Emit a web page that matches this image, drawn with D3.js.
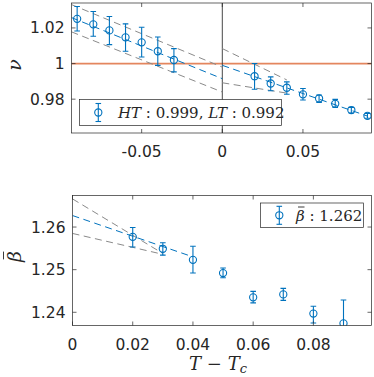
<!DOCTYPE html>
<html>
<head>
<meta charset="utf-8">
<script src="https://cdn.jsdelivr.net/npm/d3@7"></script>
<style>
  body { margin: 0; background: #fff; }
  svg { display: block; }
  .tick-label { font-family: "DejaVu Sans", sans-serif; font-size: 15.5px; fill: #262626; }
  .math { font-family: "DejaVu Serif", serif; fill: #262626; }
</style>
</head>
<body>
<div id="chart"></div>
<script>

// ---- DATA ----

// top panel: nu vs T - Tc
var tNu = [-0.09, -0.08, -0.07, -0.06, -0.05, -0.04, -0.03, 0.02, 0.03, 0.04, 0.05, 0.06, 0.07, 0.08, 0.09]
var nuMean = [1.0251, 1.0220, 1.0186, 1.0147, 1.0119, 1.0069, 1.0020, 0.9929, 0.9888, 0.9864, 0.9827, 0.9804, 0.9774, 0.9739, 0.9706]
var nuLow  = [1.0183, 1.0153, 1.0106, 1.0069, 1.0037, 0.9990, 0.9953, 0.9856, 0.9847, 0.9828, 0.9795, 0.9782, 0.9754, 0.9722, 0.9693]
var nuHigh = [1.0320, 1.0292, 1.0264, 1.0223, 1.0204, 1.0149, 1.0084, 1.0000, 0.9925, 0.9897, 0.9860, 0.9823, 0.9799, 0.9754, 0.9720]

// fit lines, each is [[t0, v0], [t1, v1]]
var nuFitLT      = [[-0.0935, 1.0258], [0, 0.9915]]
var nuFitLTUpper = [[-0.0935, 1.0331], [0, 0.9980]]
var nuFitLTLower = [[-0.0935, 1.0178], [0, 0.9840]]
var nuFitHT      = [[0, 0.9990], [0.09, 0.9705]]
var nuFitHTUpper = [[0, 1.0084], [0.04, 0.9908]]
var nuFitHTLower = [[0, 0.9892], [0.04, 0.9834]]
var nuRef = 1

// bottom panel: beta bar vs T - Tc
var tBeta = [0.02, 0.03, 0.04, 0.05, 0.06, 0.07, 0.08, 0.09]
var betaMean = [1.2577, 1.2549, 1.2523, 1.2492, 1.2435, 1.2442, 1.2397, 1.2374]
var betaLow  = [1.2553, 1.2534, 1.2492, 1.2481, 1.2422, 1.2428, 1.2375, 1.2320]
var betaHigh = [1.2599, 1.2563, 1.2555, 1.2504, 1.2449, 1.2456, 1.2414, 1.2429]

var betaFit      = [[0, 1.2627], [0.04, 1.2530]]
var betaFitUpper = [[0, 1.2666], [0.03, 1.2538]]
var betaFitLower = [[0, 1.2585], [0.03, 1.2536]]

// ticks
var nuXTicks = [-0.05, 0, 0.05]
var nuYTicks = [0.98, 1, 1.02]
var betaXTicks = [0, 0.02, 0.04, 0.06, 0.08]
var betaYTicks = [1.24, 1.25, 1.26]


// ---- DRAWING ----

var W = 374, H = 377
var blue = "#0072BD", grey = "#8a8a8a", axisCol = "#262626"

var svg = d3.select("#chart").append("svg")
	.attr("width", W)
	.attr("height", H)

// one axes box, MATLAB style: ticks inside on all four sides
function makePanel(id, box, xDom, yDom, xTicks, yTicks, xFmt, yFmt) {
	var x = d3.scaleLinear().domain(xDom).range([box.left, box.right])
	var y = d3.scaleLinear().domain(yDom).range([box.bottom, box.top])

	svg.append("clipPath").attr("id", id)
		.append("rect")
		.attr("x", box.left).attr("y", box.top)
		.attr("width", box.right - box.left).attr("height", box.bottom - box.top)

	var g = svg.append("g")
	var plot = g.append("g").attr("clip-path", "url(#" + id + ")")

	// axis lines + ticks, called after the data so they sit on top
	function drawFrame() {
		var tl = 4
		var fr = g.append("g")
		fr.append("rect")
			.attr("x", box.left).attr("y", box.top)
			.attr("width", box.right - box.left).attr("height", box.bottom - box.top)
			.attr("fill", "none").attr("stroke", axisCol).attr("stroke-width", 0.7)

		xTicks.forEach(function(t) {
			var px = x(t)
			fr.append("line").attr("x1", px).attr("x2", px).attr("y1", box.bottom).attr("y2", box.bottom - tl)
				.attr("stroke", axisCol).attr("stroke-width", 0.7)
			fr.append("line").attr("x1", px).attr("x2", px).attr("y1", box.top).attr("y2", box.top + tl)
				.attr("stroke", axisCol).attr("stroke-width", 0.7)
			fr.append("text").attr("class", "tick-label")
				.attr("x", px).attr("y", box.bottom + 24)
				.attr("text-anchor", "middle")
				.text(xFmt(t))
		})
		yTicks.forEach(function(t) {
			var py = y(t)
			fr.append("line").attr("x1", box.left).attr("x2", box.left + tl).attr("y1", py).attr("y2", py)
				.attr("stroke", axisCol).attr("stroke-width", 0.7)
			fr.append("line").attr("x1", box.right).attr("x2", box.right - tl).attr("y1", py).attr("y2", py)
				.attr("stroke", axisCol).attr("stroke-width", 0.7)
			fr.append("text").attr("class", "tick-label")
				.attr("x", box.left - 7).attr("y", py + 5.5)
				.attr("text-anchor", "end")
				.text(yFmt(t))
		})
	}

	return {x: x, y: y, plot: plot, g: g, drawFrame: drawFrame}
}

function fmt(d) {
	if (d === 0) return "0"
	return String(+d.toFixed(3))
}

var line = function(p) {
	return d3.line().x(function(d) { return p.x(d[0]) }).y(function(d) { return p.y(d[1]) })
}

function dashed(p, pts, col) {
	p.plot.append("path")
		.datum(pts)
		.attr("d", line(p))
		.attr("fill", "none")
		.attr("stroke", col)
		.attr("stroke-width", 1)
		.attr("stroke-dasharray", "7,4.5")
}

function errorbars(p, ts, mean, lo, hi) {
	var data = ts.map(function(t, i) { return {t: t, m: mean[i], lo: lo[i], hi: hi[i]} })
	var cap = 2.8
	var e = p.plot.selectAll(null).data(data).enter().append("g")
	e.append("line")
		.attr("x1", function(d) { return p.x(d.t) }).attr("x2", function(d) { return p.x(d.t) })
		.attr("y1", function(d) { return p.y(d.lo) }).attr("y2", function(d) { return p.y(d.hi) })
		.attr("stroke", blue).attr("stroke-width", 1.1)
	e.append("line")
		.attr("x1", function(d) { return p.x(d.t) - cap }).attr("x2", function(d) { return p.x(d.t) + cap })
		.attr("y1", function(d) { return p.y(d.lo) }).attr("y2", function(d) { return p.y(d.lo) })
		.attr("stroke", blue).attr("stroke-width", 1.1)
	e.append("line")
		.attr("x1", function(d) { return p.x(d.t) - cap }).attr("x2", function(d) { return p.x(d.t) + cap })
		.attr("y1", function(d) { return p.y(d.hi) }).attr("y2", function(d) { return p.y(d.hi) })
		.attr("stroke", blue).attr("stroke-width", 1.1)
	e.append("circle")
		.attr("cx", function(d) { return p.x(d.t) }).attr("cy", function(d) { return p.y(d.m) })
		.attr("r", 3.6)
		.attr("fill", "none").attr("stroke", blue).attr("stroke-width", 1.1)
}

function legendMarker(g, cx, cy) {
	var cap = 2.8
	g.append("line").attr("x1", cx).attr("x2", cx).attr("y1", cy - 9).attr("y2", cy + 9)
		.attr("stroke", blue).attr("stroke-width", 1.1)
	g.append("line").attr("x1", cx - cap).attr("x2", cx + cap).attr("y1", cy - 9).attr("y2", cy - 9)
		.attr("stroke", blue).attr("stroke-width", 1.1)
	g.append("line").attr("x1", cx - cap).attr("x2", cx + cap).attr("y1", cy + 9).attr("y2", cy + 9)
		.attr("stroke", blue).attr("stroke-width", 1.1)
	g.append("circle").attr("cx", cx).attr("cy", cy).attr("r", 3.6)
		.attr("fill", "none").attr("stroke", blue).attr("stroke-width", 1.1)
}

// beta with a bar on top; the combining macron does not render, so draw the bar
function betaBar(g, x, y, size) {
	var t = g.append("text").attr("class", "math")
		.attr("x", x).attr("y", y)
		.attr("font-style", "italic").attr("font-size", size + "px")
		.text("\u03b2")
	var bb = t.node().getBBox()
	g.append("line")
		.attr("x1", bb.x + bb.width * 0.3).attr("x2", bb.x + bb.width * 0.95)
		.attr("y1", bb.y + 0.5).attr("y2", bb.y + 0.5)
		.attr("stroke", "#262626").attr("stroke-width", 0.9)
	return bb
}


// ===== top panel =====
var pTop = makePanel("clipTop", {left: 71.5, right: 371.5, top: 3, bottom: 133},
	[-0.0935, 0.0925], [0.961, 1.034], nuXTicks, nuYTicks, fmt, fmt)

// reference line at nu = 1
pTop.plot.append("line")
	.attr("x1", pTop.x(-0.0935)).attr("x2", pTop.x(0.0925))
	.attr("y1", pTop.y(nuRef)).attr("y2", pTop.y(nuRef))
	.attr("stroke", "#D95319").attr("stroke-opacity", 0.7).attr("stroke-width", 1.7)

// vertical line at T = Tc
pTop.plot.append("line")
	.attr("x1", pTop.x(0)).attr("x2", pTop.x(0))
	.attr("y1", 3).attr("y2", 133)
	.attr("stroke", "#333").attr("stroke-width", 0.9)

dashed(pTop, nuFitLTUpper, grey)
dashed(pTop, nuFitLTLower, grey)
dashed(pTop, nuFitHTUpper, grey)
dashed(pTop, nuFitHTLower, grey)
dashed(pTop, nuFitLT, blue)
dashed(pTop, nuFitHT, blue)
errorbars(pTop, tNu, nuMean, nuLow, nuHigh)
pTop.drawFrame()

// legend top
var lgTop = svg.append("g")
lgTop.append("rect").attr("x", 79.5).attr("y", 99.5).attr("width", 202).attr("height", 26)
	.attr("fill", "#fff").attr("stroke", axisCol).attr("stroke-width", 0.7)
legendMarker(lgTop, 98.3, 112.5)
var tt = lgTop.append("text").attr("class", "math").attr("x", 118).attr("y", 117.5).attr("font-size", "15px")
	.attr("xml:space", "preserve")
tt.append("tspan").attr("font-style", "italic").text("HT")
tt.append("tspan").text(" : 0.999, ")
tt.append("tspan").attr("font-style", "italic").text("LT")
tt.append("tspan").text(" : 0.992")

// y label nu
svg.append("text").attr("class", "math")
	.attr("transform", "translate(21,65) rotate(-90)")
	.attr("text-anchor", "middle")
	.attr("font-style", "italic").attr("font-size", "19px")
	.text("\u03bd")


// ===== bottom panel =====
var pBot = makePanel("clipBot", {left: 72.5, right: 371.5, top: 195.5, bottom: 325.5},
	[0, 0.0993], [1.2369, 1.2674], betaXTicks, betaYTicks, fmt, fmt)

dashed(pBot, betaFitUpper, grey)
dashed(pBot, betaFitLower, grey)
dashed(pBot, betaFit, blue)
errorbars(pBot, tBeta, betaMean, betaLow, betaHigh)
pBot.drawFrame()

// legend bottom
var lgBot = svg.append("g")
lgBot.append("rect").attr("x", 260.5).attr("y", 203).attr("width", 103).attr("height", 24.5)
	.attr("fill", "#fff").attr("stroke", axisCol).attr("stroke-width", 0.7)
legendMarker(lgBot, 279.3, 215.3)
var bb = betaBar(lgBot, 296, 220.5, 15)
lgBot.append("text").attr("class", "math")
	.attr("x", bb.x + bb.width + 4.5).attr("y", 220.5).attr("font-size", "15px")
	.text(": 1.262")

// y label beta bar (rotated)
var yl = svg.append("g").attr("transform", "translate(21,256) rotate(-90)")
betaBar(yl, -6, 0, 19)

// x label T - Tc
var xl = svg.append("text").attr("class", "math")
	.attr("x", 218).attr("y", 370)
	.attr("text-anchor", "middle")
	.attr("font-size", "18px")
xl.append("tspan").attr("font-style", "italic").text("T")
xl.append("tspan").text(" \u2212 ")
xl.append("tspan").attr("font-style", "italic").text("T")
xl.append("tspan").attr("font-style", "italic").attr("font-size", "13px").attr("dy", 3).text("c")

</script>
</body>
</html>
